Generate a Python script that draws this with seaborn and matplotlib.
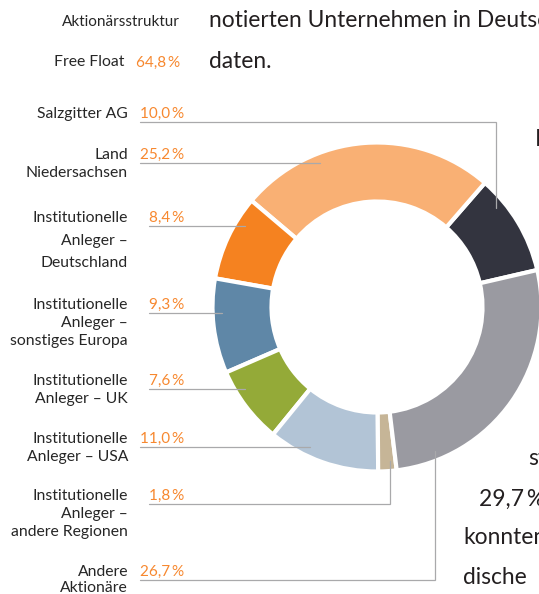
import matplotlib
matplotlib.use("Agg")
import matplotlib.pyplot as plt
import seaborn as sns
import numpy as np

# ---------------- data ----------------
categories = [
    "Salzgitter AG",
    "Land Niedersachsen",
    "Institutionelle Anleger – Deutschland",
    "Institutionelle Anleger – sonstiges Europa",
    "Institutionelle Anleger – UK",
    "Institutionelle Anleger – USA",
    "Institutionelle Anleger – andere Regionen",
    "Andere Aktionäre",
]
label_lines = [
    ["Salzgitter AG"],
    ["Land", "Niedersachsen"],
    ["Institutionelle", "Anleger –", "Deutschland"],
    ["Institutionelle", "Anleger –", "sonstiges Europa"],
    ["Institutionelle", "Anleger – UK"],
    ["Institutionelle", "Anleger – USA"],
    ["Institutionelle", "Anleger –", "andere Regionen"],
    ["Andere", "Aktionäre"],
]
shares = [10.0, 25.2, 8.4, 9.3, 7.6, 11.0, 1.8, 26.7]
pct_labels = ["10,0\u2009%", "25,2\u2009%", "8,4\u2009%", "9,3\u2009%",
              "7,6\u2009%", "11,0\u2009%", "1,8\u2009%", "26,7\u2009%"]
header_title = "Aktionärsstruktur"
free_float_label = "Free Float"
free_float_pct = "64,8\u2009%"
body_left = ["notierten Unternehmen in Deutschland", "daten."]
body_right = ["Die", "st", "29,7\u2009%", "konnten", "dische"]

colors = ["#33343f", "#f9b074", "#f58220", "#5f87a7",
          "#94aa38", "#b2c4d6", "#c6b597", "#9a9aa1"]

# ---------------- layout ----------------
W, H = 539, 594
cx, cy = 377, 307
R_out, ring_w = 164.5, 59
r_conn = 155
line_y = [122, 163, 226, 313, 389, 447, 504, 580]
line_gap = [18, 18, 22.5, 18, 17.5, 18, 18, 15.5]
elbow_x = {0: 496, 6: 390, 7: 435}
name_right, pct_right = 128, 184
orange_txt = "#f7882f"
txt_col = "#262626"
conn_col = "#a9a9ab"

sns.set_theme(style="white")
plt.rcParams["font.family"] = ["Lato", "DejaVu Sans"]

fig = plt.figure(figsize=(W / 100, H / 100), dpi=100)
ax = fig.add_axes([0, 0, 1, 1])

pal = sns.color_palette(colors)
ax.pie(shares, colors=pal, radius=R_out, center=(cx, cy),
       startangle=-13, counterclock=False, frame=True,
       wedgeprops=dict(width=ring_w, edgecolor="white", linewidth=3))
ax.set_xlim(0, W)
ax.set_ylim(H, 0)
ax.set_aspect("equal", adjustable="box")
ax.axis("off")

lab_fs = 11.3
pct_fs = 11.0
pct_texts = []
for i, (lines, pct, y) in enumerate(zip(label_lines, pct_labels, line_y)):
    base = y - 4
    for k, ln in enumerate(lines):
        ax.text(name_right, base + k * line_gap[i], ln, ha="right", va="baseline",
                fontsize=lab_fs, color=txt_col)
    t = ax.text(pct_right, base, pct, ha="right", va="baseline",
                fontsize=pct_fs, color=orange_txt)
    pct_texts.append(t)

# header
ax.text(180, 26.5, header_title, ha="right", va="baseline", fontsize=11.0, color=txt_col)
ax.text(124, 66.5, free_float_label, ha="right", va="baseline", fontsize=lab_fs, color=txt_col)
ax.text(180, 66.5, free_float_pct, ha="right", va="baseline", fontsize=pct_fs, color=orange_txt)

# body text fragments
body_fs = 16.4
ax.text(209, 26.7, body_left[0], ha="left", va="baseline", fontsize=body_fs, color="#231f20")
ax.text(209, 68, body_left[1], ha="left", va="baseline", fontsize=body_fs, color="#231f20")
for txt, (x, y) in zip(body_right, [(535, 146), (528, 465), (479, 505.5), (463, 544), (463, 584)]):
    ax.text(x, y, txt, ha="left", va="baseline", fontsize=body_fs, color="#231f20")

# connectors
fig.canvas.draw()
renderer = fig.canvas.get_renderer()
inv = ax.transData.inverted()
for i, (t, y) in enumerate(zip(pct_texts, line_y)):
    bb = t.get_window_extent(renderer)
    x0 = inv.transform((bb.x0, bb.y0))[0]
    if i in elbow_x:
        ex = elbow_x[i]
        dx = ex - cx
        dy = np.sqrt(r_conn ** 2 - dx ** 2)
        ey = cy - dy if i == 0 else cy + dy
        ax.plot([x0, ex, ex], [y, y, ey], color=conn_col, lw=0.9, solid_joinstyle="miter")
    else:
        dy = y - cy
        ex = cx - np.sqrt(r_conn ** 2 - dy ** 2)
        ax.plot([x0, ex], [y, y], color=conn_col, lw=0.9)

fig.savefig("out.png", dpi=100)
